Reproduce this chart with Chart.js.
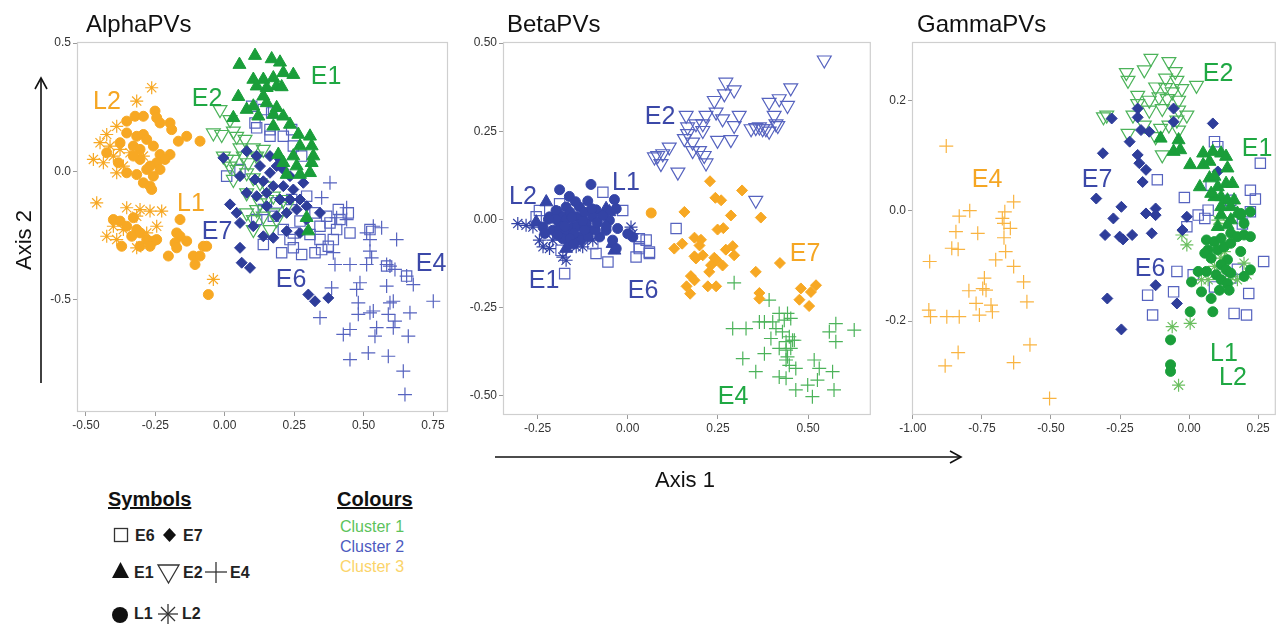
<!DOCTYPE html>
<html>
<head>
<meta charset="utf-8">
<script src="https://cdn.jsdelivr.net/npm/chart.js@4.4.1/dist/chart.umd.min.js"></script>
<style>
  body { margin: 0; background: #fff; width: 1285px; height: 624px; position: relative; overflow: hidden;
         font-family: "Liberation Sans", Arial, sans-serif; }
  .box { position: absolute; top: 0; }
  .t { position: absolute; white-space: nowrap; line-height: 1; }
  .lab { position: absolute; white-space: nowrap; line-height: 1; font-size: 25px; transform: translate(-50%, -50%); }
  .title { position: absolute; top: 10px; font-size: 24px; color: #111; }
  .g { color: #1fa843; } .b { color: #3b48a8; } .o { color: #f5a623; }
  svg { position: absolute; left: 0; top: 0; }
</style>
</head>
<body>

<div class="box" style="left:0;width:460px;height:440px"><canvas id="alpha" width="460" height="440"></canvas></div>
<div class="box" style="left:455px;width:425px;height:440px"><canvas id="beta" width="425" height="440"></canvas></div>
<div class="box" style="left:875px;width:410px;height:440px"><canvas id="gamma" width="410" height="440"></canvas></div>

<div class="title" style="left:86px">AlphaPVs</div>
<div class="title" style="left:507px">BetaPVs</div>
<div class="title" style="left:917px">GammaPVs</div>

<!-- group labels -->
<div class="lab o" style="left:107px;top:100px">L2</div>
<div class="lab g" style="left:207px;top:97px">E2</div>
<div class="lab g" style="left:326px;top:75px">E1</div>
<div class="lab o" style="left:191px;top:202px">L1</div>
<div class="lab b" style="left:217px;top:230px">E7</div>
<div class="lab b" style="left:291px;top:278px">E6</div>
<div class="lab b" style="left:431px;top:262px">E4</div>

<div class="lab b" style="left:660px;top:115px">E2</div>
<div class="lab b" style="left:523px;top:195px">L2</div>
<div class="lab b" style="left:626px;top:181px">L1</div>
<div class="lab b" style="left:544px;top:279px">E1</div>
<div class="lab b" style="left:643px;top:289px">E6</div>
<div class="lab o" style="left:805px;top:252px">E7</div>
<div class="lab g" style="left:733px;top:395px">E4</div>

<div class="lab g" style="left:1218px;top:72px">E2</div>
<div class="lab g" style="left:1257px;top:147px">E1</div>
<div class="lab o" style="left:987px;top:178px">E4</div>
<div class="lab b" style="left:1097px;top:178px">E7</div>
<div class="lab b" style="left:1150px;top:267px">E6</div>
<div class="lab g" style="left:1224px;top:352px">L1</div>
<div class="lab g" style="left:1233px;top:376px">L2</div>

<!-- axis titles -->
<div class="t" style="left:655px;top:469px;font-size:22px;color:#111">Axis 1</div>
<div class="t" style="left:24px;top:240px;font-size:22px;color:#111;transform:translate(-50%,-50%) rotate(-90deg)">Axis 2</div>

<!-- legends -->
<div class="t" style="left:108px;top:489px;font-size:20px;font-weight:bold;text-decoration:underline;color:#111">Symbols</div>
<div class="t" style="left:337px;top:489px;font-size:20px;font-weight:bold;text-decoration:underline;color:#111">Colours</div>
<div class="t" style="left:340px;top:519px;font-size:16px;color:#5cc35c">Cluster 1</div>
<div class="t" style="left:340px;top:539px;font-size:16px;color:#4d5bbf">Cluster 2</div>
<div class="t" style="left:340px;top:559px;font-size:16px;color:#fbd46a">Cluster 3</div>

<div class="t" style="left:135px;top:528px;font-size:16px;font-weight:bold;color:#222">E6</div>
<div class="t" style="left:183px;top:528px;font-size:16px;font-weight:bold;color:#222">E7</div>
<div class="t" style="left:134px;top:565px;font-size:16px;font-weight:bold;color:#222">E1</div>
<div class="t" style="left:183px;top:565px;font-size:16px;font-weight:bold;color:#222">E2</div>
<div class="t" style="left:230px;top:565px;font-size:16px;font-weight:bold;color:#222">E4</div>
<div class="t" style="left:134px;top:606px;font-size:16px;font-weight:bold;color:#222">L1</div>
<div class="t" style="left:182px;top:606px;font-size:16px;font-weight:bold;color:#222">L2</div>

<svg width="1285" height="624">
  <g stroke="#111" stroke-width="1.6" fill="none">
    <line x1="41" y1="383" x2="41" y2="79"/>
    <polyline points="35,89 41,78 47,89"/>
    <line x1="495" y1="457" x2="960" y2="457"/>
    <polyline points="950,451 961,457 950,463"/>
  </g>
  <g stroke="#333" stroke-width="1.3" fill="none">
    <rect x="114.5" y="528.5" width="13" height="13"/>
    <polygon points="158,565 179,565 168.5,583"/>
    <line x1="205" y1="572" x2="227" y2="572"/>
    <line x1="216" y1="562" x2="216" y2="583"/>
    <line x1="158" y1="614" x2="178" y2="614"/>
    <line x1="168" y1="604" x2="168" y2="624"/>
    <line x1="161" y1="607" x2="175" y2="621"/>
    <line x1="175" y1="607" x2="161" y2="621"/>
  </g>
  <g fill="#111">
    <polygon points="169.5,528 176,535 169.5,542 163,535"/>
    <polygon points="120.5,562 129,578 112,578"/>
    <circle cx="120" cy="615" r="8"/>
  </g>
</svg>

<script>
// ---------- AlphaPVs ----------
const alphaXTicks = [-0.5, -0.25, 0, 0.25, 0.5, 0.75];
const alphaYTicks = [-0.5, 0, 0.5];
const alphaE1 = [[0.053,0.416],[0.109,0.451],[0.169,0.438],[0.199,0.425],[0.247,0.377],[0.211,0.384],[0.103,0.358],
  [0.139,0.358],[0.175,0.364],[0.115,0.332],[0.151,0.326],[0.187,0.332],[0.205,0.329],[0.049,0.291],[0.139,0.293],
  [0.103,0.254],[0.121,0.215],[0.187,0.248],[0.151,0.267],[0.175,0.222],[0.211,0.215],[0.235,0.183],[0.265,0.144],
  [0.307,0.137],[0.271,0.099],[0.313,0.099],[0.247,0.060],[0.319,0.060],[0.259,0.021],[0.313,0.034],[0.211,0.034],
  [0.307,-0.005],[0.223,-0.012],[0.271,-0.012],[0.295,-0.180],[0.301,-0.232],[0.193,0.066],[0.079,0.241],[0.031,0.209],[0.175,0.176]];
const alphaE2 = [[-0.041,0.150],[-0.011,0.144],[0.031,0.157],[-0.017,0.241],[0.019,0.202],[0.043,0.137],[0.073,0.125],
  [0.103,0.092],[0.139,0.086],[0.115,0.060],[0.031,0.047],[0.067,0.060],[0.085,0.034],[0.019,0.021],[0.043,0.008],
  [0.079,-0.005],[0.103,-0.025],[0.127,-0.044],[0.151,-0.057],[0.175,-0.096],[0.211,-0.109],[0.223,-0.135],[0.115,-0.148],
  [0.139,-0.174],[0.103,-0.187],[0.079,-0.161],[0.175,-0.161],[0.127,-0.122],[0.151,-0.109],[0.055,0.092],[0.163,-0.226],
  [0.103,-0.226],[0.007,0.047],[-0.005,0.060],[0.187,-0.187],[0.031,-0.031],[0.079,-0.083]];
const alphaE4 = [[0.379,-0.044],[0.349,-0.102],[0.439,-0.141],[0.439,-0.187],[0.403,-0.180],[0.535,-0.213],[0.565,-0.219],
  [0.619,-0.265],[0.511,-0.239],[0.523,-0.265],[0.391,-0.316],[0.397,-0.362],[0.451,-0.362],[0.511,-0.362],[0.583,-0.362],
  [0.595,-0.368],[0.613,-0.381],[0.655,-0.407],[0.679,-0.440],[0.583,-0.446],[0.487,-0.433],[0.385,-0.453],[0.475,-0.459],
  [0.481,-0.511],[0.481,-0.556],[0.523,-0.550],[0.535,-0.543],[0.595,-0.511],[0.607,-0.505],[0.589,-0.556],[0.667,-0.550],
  [0.751,-0.505],[0.547,-0.608],[0.613,-0.582],[0.607,-0.608],[0.451,-0.615],[0.427,-0.634],[0.541,-0.641],[0.661,-0.641],
  [0.343,-0.569],[0.451,-0.732],[0.517,-0.706],[0.589,-0.719],[0.643,-0.777],[0.649,-0.868],[0.523,-0.310],[0.529,-0.336]];
const alphaE6 = [[0.097,0.254],[0.139,0.241],[0.169,0.228],[0.109,0.189],[0.115,0.170],[0.163,0.163],[0.163,0.137],
  [0.211,0.137],[0.241,0.163],[0.247,0.099],[0.277,0.060],[0.007,-0.018],[0.055,0.008],[0.139,-0.148],[0.175,-0.174],
  [0.139,-0.284],[0.205,-0.316],[0.247,-0.297],[0.277,-0.323],[0.325,-0.316],[0.349,-0.304],[0.343,-0.265],[0.373,-0.291],
  [0.391,-0.265],[0.403,-0.226],[0.415,-0.187],[0.409,-0.148],[0.445,-0.161],[0.451,-0.239],[0.523,-0.226],[0.583,-0.368],
  [0.655,-0.407],[0.343,-0.213],[0.307,-0.245],[0.235,-0.265],[0.247,-0.239],[0.211,-0.226],[0.271,-0.193],[0.325,-0.161],
  [0.367,-0.174],[0.379,-0.200],[0.295,-0.096],[0.241,-0.109],[0.187,-0.122],[0.115,-0.187]];
const alphaE7 = [[-0.005,0.053],[0.079,0.079],[0.115,0.060],[0.055,-0.018],[0.109,-0.031],[0.139,-0.038],[0.163,-0.005],
  [0.187,0.021],[0.211,0.008],[0.235,-0.018],[0.175,-0.057],[0.211,-0.057],[0.247,-0.070],[0.283,-0.044],[0.079,-0.083],
  [0.115,-0.096],[0.151,-0.083],[0.199,-0.109],[0.235,-0.109],[0.271,-0.109],[0.295,-0.135],[0.259,-0.148],[0.223,-0.161],
  [0.187,-0.174],[0.043,-0.161],[0.019,-0.128],[0.055,-0.200],[0.103,-0.213],[0.139,-0.252],[0.175,-0.258],[0.223,-0.232],
  [0.271,-0.239],[0.343,-0.161],[0.295,-0.187],[0.055,-0.297],[0.061,-0.355],[0.091,-0.375],[0.301,-0.479],[0.325,-0.505],
  [0.373,-0.492],[0.151,-0.135],[0.127,0.021],[0.163,0.060],[0.199,0.047]];
const alphaL1 = [[-0.353,0.196],[-0.323,0.215],[-0.293,0.215],[-0.251,0.235],[-0.245,0.209],[-0.233,0.189],[-0.197,0.189],
  [-0.191,0.163],[-0.167,0.118],[-0.137,0.137],[-0.089,0.118],[-0.353,0.150],[-0.317,0.137],[-0.293,0.144],[-0.281,0.125],
  [-0.377,0.112],[-0.425,0.073],[-0.329,0.099],[-0.305,0.086],[-0.257,0.099],[-0.233,0.066],[-0.197,0.066],[-0.215,0.047],
  [-0.245,0.034],[-0.269,0.021],[-0.305,0.047],[-0.329,0.060],[-0.383,0.034],[-0.353,-0.005],[-0.317,-0.012],[-0.281,0.008],
  [-0.257,-0.018],[-0.293,-0.044],[-0.269,-0.057],[-0.263,-0.070],[-0.233,0.008],[-0.401,-0.187],[-0.377,-0.193],
  [-0.353,-0.213],[-0.329,-0.180],[-0.317,-0.226],[-0.335,-0.252],[-0.371,-0.291],[-0.305,-0.239],[-0.281,-0.265],
  [-0.257,-0.271],[-0.305,-0.291],[-0.269,-0.291],[-0.245,-0.265],[-0.161,-0.187],[-0.173,-0.239],[-0.161,-0.252],
  [-0.137,-0.271],[-0.179,-0.278],[-0.173,-0.297],[-0.203,-0.329],[-0.113,-0.329],[-0.089,-0.329],[-0.107,-0.362],
  [-0.077,-0.291],[-0.065,-0.291],[-0.059,-0.479]];
const alphaL2 = [[-0.263,0.326],[-0.317,0.274],[-0.389,0.176],[-0.425,0.144],[-0.449,0.112],[-0.413,0.099],[-0.473,0.047],
  [-0.437,0.034],[-0.401,0.060],[-0.389,-0.005],[-0.365,0.021],[-0.461,-0.122],[-0.353,-0.141],[-0.305,-0.148],
  [-0.269,-0.154],[-0.227,-0.154],[-0.245,-0.213],[-0.317,-0.174],[-0.365,-0.226],[-0.401,-0.213],[-0.425,-0.252],
  [-0.389,-0.265],[-0.317,-0.297],[-0.281,-0.239],[-0.041,-0.420],[-0.341,0.073],[-0.377,0.086],[-0.293,0.060]];

// ---------- BetaPVs ----------
const betaXTicks = [-0.25, 0, 0.25, 0.5];
const betaYTicks = [-0.5, -0.25, 0, 0.25, 0.5];
const betaE2 = [[0.545,0.452],[0.272,0.389],[0.295,0.367],[0.268,0.356],[0.240,0.337],[0.452,0.373],[0.420,0.342],
  [0.392,0.332],[0.443,0.323],[0.406,0.295],[0.411,0.271],[0.365,0.262],[0.383,0.257],[0.392,0.250],[0.374,0.257],
  [0.162,0.295],[0.189,0.271],[0.208,0.271],[0.217,0.295],[0.245,0.304],[0.263,0.285],[0.309,0.295],[0.295,0.266],
  [0.166,0.262],[0.166,0.243],[0.208,0.252],[0.180,0.219],[0.199,0.195],[0.212,0.181],[0.217,0.160],[0.249,0.224],
  [0.286,0.226],[0.157,0.229],[0.115,0.205],[0.097,0.186],[0.083,0.181],[0.074,0.177],[0.092,0.158],[0.139,0.134],
  [0.355,0.054],[0.180,0.195],[0.342,0.257],[0.416,0.266],[0.355,0.260]];
const betaE7 = [[0.228,0.108],[0.317,0.082],[0.243,0.061],[0.259,0.054],[0.157,0.021],[0.369,0.005],[0.286,0.011],
  [0.249,-0.029],[0.265,-0.025],[0.185,-0.052],[0.203,-0.058],[0.129,-0.083],[0.151,-0.069],[0.199,-0.074],[0.272,-0.086],
  [0.291,-0.076],[0.295,-0.102],[0.185,-0.105],[0.189,-0.111],[0.208,-0.102],[0.240,-0.109],[0.247,-0.116],[0.231,-0.130],
  [0.263,-0.131],[0.226,-0.149],[0.422,-0.124],[0.355,-0.149],[0.175,-0.161],[0.185,-0.173],[0.163,-0.190],[0.173,-0.211],
  [0.222,-0.190],[0.245,-0.190],[0.365,-0.209],[0.365,-0.225],[0.480,-0.196],[0.522,-0.187],[0.508,-0.206],[0.476,-0.228],
  [0.503,-0.246]];
const betaE4 = [[0.295,-0.180],[0.392,-0.229],[0.420,-0.267],[0.443,-0.267],[0.434,-0.286],[0.291,-0.310],[0.328,-0.310],
  [0.365,-0.291],[0.379,-0.291],[0.402,-0.291],[0.411,-0.310],[0.429,-0.319],[0.452,-0.281],[0.577,-0.296],[0.628,-0.314],
  [0.559,-0.319],[0.577,-0.347],[0.397,-0.338],[0.439,-0.347],[0.457,-0.343],[0.462,-0.343],[0.420,-0.366],[0.439,-0.371],
  [0.452,-0.366],[0.379,-0.381],[0.319,-0.395],[0.439,-0.399],[0.448,-0.414],[0.466,-0.423],[0.517,-0.399],[0.531,-0.423],
  [0.568,-0.432],[0.355,-0.432],[0.420,-0.447],[0.439,-0.451],[0.526,-0.456],[0.499,-0.470],[0.466,-0.484],[0.512,-0.503],
  [0.572,-0.484],[0.443,-0.390],[0.448,-0.333]];
const betaL1 = [[-0.189,0.084],[-0.102,0.099],[-0.162,0.065],[-0.111,0.052],[-0.088,0.027],[-0.037,0.056],[-0.032,0.030],
  [-0.051,-0.003],[-0.028,-0.026],[-0.060,-0.031],[-0.042,-0.059],[-0.032,-0.083],[0.014,-0.050],[0.000,-0.041],
  [-0.217,0.007],[-0.199,0.025],[-0.171,0.035],[-0.134,0.035],[-0.189,-0.012],[-0.152,-0.022],[-0.115,-0.012],
  [-0.078,-0.050],[-0.134,-0.050],[-0.171,-0.041],[-0.208,-0.031],[-0.235,-0.022],[-0.143,0.007],[-0.180,0.007],
  [-0.097,0.007],[-0.106,-0.031],[-0.162,-0.069],[-0.190,-0.030],[-0.170,0.000],[-0.140,-0.020],[-0.120,0.020],
  [-0.160,0.020],[-0.200,0.000],[-0.130,-0.060],[-0.090,-0.030],[-0.110,-0.050],[-0.180,-0.055],[-0.150,-0.040],
  [-0.070,0.010],[-0.220,0.000],[-0.230,-0.040],[-0.060,-0.020],[-0.155,0.005],[-0.125,-0.005],[-0.175,-0.020],
  [-0.145,0.050],[-0.120,-0.030],[-0.085,-0.010],[-0.195,-0.045],[-0.160,-0.055],[-0.100,0.030],[-0.150,-0.070]];
const betaL1Orange = [[0.065,0.018]];
const betaL2 = [[-0.305,-0.012],[-0.282,-0.017],[-0.263,-0.022],[-0.235,-0.078],[-0.217,-0.083],[-0.180,-0.107],
  [-0.171,-0.116],[-0.125,-0.078],[0.009,-0.022],[0.014,-0.041],[-0.245,-0.059],[-0.097,-0.059],[-0.143,-0.078],[-0.208,-0.059]];
const betaE1 = [[-0.226,0.049],[-0.060,0.030],[-0.051,0.021],[-0.171,-0.083],[-0.042,-0.069],[-0.037,-0.088],
  [-0.254,-0.008],[-0.125,0.007],[-0.189,0.016]];
const betaE6 = [[-0.069,0.077],[-0.189,0.044],[-0.245,0.025],[-0.254,0.007],[-0.014,0.025],[-0.078,-0.022],
  [-0.185,-0.088],[-0.088,-0.097],[-0.055,-0.121],[-0.175,-0.154],[0.032,-0.055],[0.051,-0.059],[0.032,-0.083],
  [0.060,-0.093],[0.023,-0.107],[-0.134,-0.041],[-0.097,-0.069],[0.134,-0.026],[0.032,-0.078],[0.060,-0.097]];

// ---------- GammaPVs ----------
const gammaXTicks = [-1, -0.75, -0.5, -0.25, 0, 0.25];
const gammaYTicks = [-0.2, 0, 0.2];
const gammaE4 = [[-0.879,0.117],[-0.794,0.000],[-0.832,-0.010],[-0.635,0.016],[-0.667,-0.002],[-0.676,-0.014],
  [-0.670,-0.023],[-0.647,-0.032],[-0.844,-0.038],[-0.765,-0.041],[-0.670,-0.049],[-0.859,-0.068],[-0.836,-0.070],
  [-0.664,-0.074],[-0.700,-0.089],[-0.939,-0.092],[-0.635,-0.101],[-0.741,-0.122],[-0.599,-0.129],[-0.797,-0.145],
  [-0.747,-0.141],[-0.735,-0.144],[-0.587,-0.165],[-0.771,-0.168],[-0.717,-0.171],[-0.942,-0.180],[-0.712,-0.183],
  [-0.936,-0.192],[-0.877,-0.192],[-0.832,-0.192],[-0.759,-0.189],[-0.576,-0.243],[-0.836,-0.257],[-0.883,-0.281],
  [-0.635,-0.275],[-0.505,-0.340]];
const gammaE2 = [[-0.138,0.276],[-0.073,0.270],[-0.050,0.252],[-0.227,0.250],[-0.221,0.236],[-0.162,0.255],[-0.085,0.240],
  [-0.044,0.236],[0.027,0.227],[-0.026,0.221],[-0.121,0.224],[-0.085,0.223],[-0.186,0.209],[-0.144,0.200],[-0.109,0.206],
  [-0.079,0.203],[-0.061,0.215],[-0.038,0.200],[-0.186,0.194],[-0.298,0.173],[-0.310,0.170],[-0.203,0.173],[-0.144,0.182],
  [-0.038,0.182],[-0.008,0.173],[-0.097,0.185],[-0.044,0.164],[-0.162,0.155],[-0.103,0.149],[-0.073,0.155],[-0.038,0.146],
  [-0.097,0.101],[-0.221,0.140],[-0.121,0.134]];
const gammaE1 = [[-0.103,0.131],[-0.056,0.107],[-0.032,0.110],[-0.038,0.128],[0.004,0.083],[0.051,0.104],[0.051,0.083],
  [0.074,0.089],[0.086,0.107],[0.116,0.104],[0.134,0.098],[0.139,0.077],[0.039,0.043],[0.074,0.059],[0.092,0.062],
  [0.104,0.043],[0.134,0.049],[0.157,0.049],[0.116,0.025],[0.139,0.019],[0.092,0.025],[0.163,0.019],[0.151,0.007],
  [0.116,0.007],[0.080,0.031],[0.116,-0.008],[0.151,-0.017],[0.175,-0.005],[0.139,-0.026],[0.104,-0.029]];
const gammaE7 = [[-0.280,0.167],[-0.312,0.104],[-0.215,0.125],[-0.186,0.185],[-0.186,0.169],[-0.174,0.146],[-0.144,0.143],
  [-0.186,0.101],[-0.180,0.086],[-0.156,0.074],[-0.168,0.052],[-0.056,0.185],[-0.056,0.161],[0.086,0.158],[0.104,0.071],
  [-0.336,0.022],[-0.245,0.007],[-0.274,-0.014],[-0.304,-0.044],[-0.251,-0.047],[-0.239,-0.052],[-0.206,-0.044],
  [-0.156,-0.005],[-0.121,0.004],[-0.121,-0.008],[-0.135,-0.041],[-0.008,-0.011],[-0.024,-0.035],[-0.121,-0.135],
  [-0.296,-0.159],[-0.044,-0.168],[-0.245,-0.215]];
const gammaE6 = [[-0.115,0.056],[0.092,0.125],[0.104,0.116],[0.258,0.086],[-0.017,0.024],[0.033,-0.008],[0.057,-0.014],
  [0.069,0.001],[0.080,0.046],[0.151,0.019],[0.222,0.037],[0.240,0.021],[0.222,-0.002],[0.193,-0.024],[0.270,-0.092],
  [-0.044,-0.110],[0.015,-0.116],[0.151,-0.122],[0.175,-0.106],[0.092,-0.138],[-0.056,-0.147],[-0.150,-0.153],
  [0.216,-0.150],[-0.132,-0.189],[0.163,-0.186],[0.208,-0.189],[-0.008,-0.029]];
const gammaL1 = [[0.187,-0.008],[0.199,-0.023],[0.063,-0.053],[0.092,-0.056],[0.116,-0.050],[0.151,-0.041],[0.175,-0.047],
  [0.199,-0.044],[0.222,-0.047],[0.069,-0.071],[0.104,-0.071],[0.128,-0.065],[0.151,-0.059],[0.187,-0.074],[0.057,-0.077],
  [0.080,-0.086],[0.139,-0.089],[0.116,-0.098],[0.134,-0.107],[0.151,-0.113],[0.033,-0.110],[0.063,-0.110],[0.098,-0.116],
  [0.009,-0.129],[0.116,-0.125],[0.139,-0.132],[0.045,-0.147],[0.080,-0.159],[0.110,-0.144],[0.145,-0.144],[0.004,-0.183],
  [0.086,-0.183],[0.222,-0.107],[0.199,-0.119],[-0.067,-0.234],[-0.067,-0.279],[-0.067,-0.291],[0.187,-0.005],[0.222,-0.002]];
const gammaL2 = [[-0.026,-0.044],[-0.008,-0.062],[0.104,-0.017],[0.128,-0.074],[0.151,-0.119],[0.199,-0.095],[0.175,-0.125],
  [0.210,-0.116],[0.069,-0.125],[0.045,-0.125],[-0.061,-0.210],[0.004,-0.204],[-0.038,-0.316],[0.092,-0.101],[0.116,-0.086],
  [0.139,-0.023]];

// ---------- drawing ----------
const GREEN = '#1a9e3a', GREEN_LT = '#4cb35a', GREEN_AST = '#6bbf60';
const BLUE = '#2e3d9a', BLUE_LT = '#5663bf', BLUE_MID = '#3444a6';
const ORANGE = '#f7a823', ORANGE_LT = '#f9b441';

const shapes = {
  E1: { pointStyle: 'triangle', radius: 7.5, filled: true },
  E2: { pointStyle: 'triangle', rotation: 180, radius: 8, filled: false },
  E4: { pointStyle: 'cross', radius: 7, filled: false },
  E6: { pointStyle: 'rect', radius: 7.3, filled: false },
  E7: { pointStyle: 'rectRot', radius: 5.5, filled: true },
  L1: { pointStyle: 'circle', radius: 5, filled: true },
  L2: { pointStyle: 'star', radius: 6.5, filled: false }
};

function ds(points, type, color) {
  const s = shapes[type];
  return {
    label: type,
    data: points.map(p => ({ x: p[0], y: p[1] })),
    pointStyle: s.pointStyle,
    rotation: s.rotation || 0,
    pointRadius: s.radius,
    pointBorderColor: color,
    pointBackgroundColor: s.filled ? color : 'rgba(0,0,0,0)',
    pointBorderWidth: s.filled ? 1 : 1.2,
    showLine: false
  };
}

const frame = {
  id: 'frame',
  beforeDatasetsDraw(chart) {
    const a = chart.chartArea, c = chart.ctx;
    c.save();
    c.strokeStyle = '#cfcfcf';
    c.lineWidth = 1.2;
    c.strokeRect(a.left + 0.5, a.top + 0.5, a.width - 1, a.height - 1);
    c.restore();
  }
};

function axis(min, max, ticks, digits, size, isX) {
  return {
    type: 'linear',
    min: min,
    max: max,
    afterBuildTicks: (ax) => { ax.ticks = ticks.map(v => ({ value: v })); },
    afterFit: (ax) => { if (isX) ax.height = size; else ax.width = size; },
    grid: { display: true, drawOnChartArea: false, drawTicks: true, tickLength: 4, color: '#9a9a9a' },
    border: { display: false },
    ticks: {
      color: '#333',
      font: { size: 12, family: '"Liberation Sans", Arial, sans-serif' },
      padding: 2,
      maxRotation: 0,
      autoSkip: false,
      callback: (v) => Number(v).toFixed(digits)
    }
  };
}

function makeChart(id, datasets, x, y, padRight) {
  new Chart(document.getElementById(id), {
    type: 'scatter',
    data: { datasets: datasets },
    options: {
      responsive: false,
      animation: false,
      events: [],
      layout: { padding: { top: 42, right: padRight, left: 0, bottom: 0 } },
      plugins: { legend: { display: false }, tooltip: { enabled: false } },
      scales: { x: x, y: y }
    },
    plugins: [frame]
  });
}

makeChart('alpha', [
  ds(alphaE1, 'E1', GREEN),
  ds(alphaE7, 'E7', BLUE),
  ds(alphaE2, 'E2', GREEN_LT),
  ds(alphaE6, 'E6', BLUE_LT),
  ds(alphaE4, 'E4', BLUE_LT),
  ds(alphaL1, 'L1', ORANGE),
  ds(alphaL2, 'L2', ORANGE)
], axis(-0.532, 0.804, alphaXTicks, 2, 28, true), axis(-0.936, 0.504, alphaYTicks, 1, 77, false), 12);

makeChart('beta', [
  ds(betaL1, 'L1', BLUE_MID),
  ds(betaE1, 'E1', BLUE_MID),
  ds(betaL2, 'L2', BLUE_MID),
  ds(betaE6, 'E6', BLUE_LT),
  ds(betaE2, 'E2', BLUE_LT),
  ds(betaE7, 'E7', ORANGE),
  ds(betaL1Orange, 'L1', ORANGE),
  ds(betaE4, 'E4', GREEN_LT)
], axis(-0.346, 0.674, betaXTicks, 2, 25, true), axis(-0.555, 0.503, betaYTicks, 2, 48, false), 9);

makeChart('gamma', [
  ds(gammaL1, 'L1', GREEN),
  ds(gammaE1, 'E1', GREEN),
  ds(gammaE7, 'E7', BLUE),
  ds(gammaL2, 'L2', GREEN_AST),
  ds(gammaE6, 'E6', BLUE_LT),
  ds(gammaE2, 'E2', GREEN_LT),
  ds(gammaE4, 'E4', ORANGE_LT)
], axis(-1.003, 0.314, gammaXTicks, 2, 25, true), axis(-0.370, 0.3055, gammaYTicks, 1, 37, false), 2);
</script>
</body>
</html>
